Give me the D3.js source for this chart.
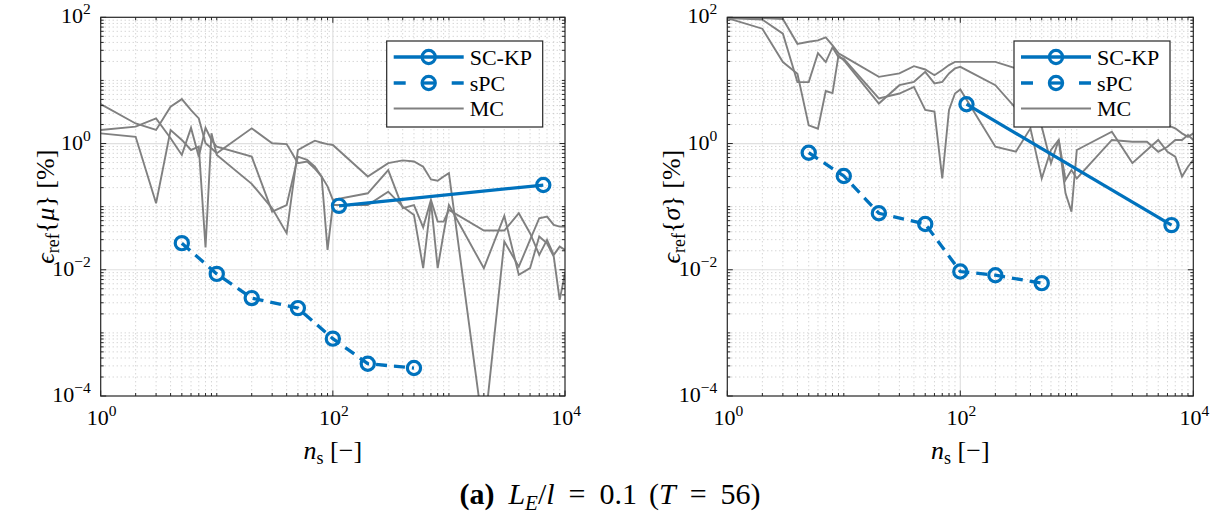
<!DOCTYPE html>
<html>
<head>
<meta charset="utf-8">
<script src="https://cdn.jsdelivr.net/npm/d3@7"></script>
<style>
  body { margin: 0; background: #fff; }
  svg { display: block; }
  text { font-family: "Liberation Serif", "DejaVu Serif", serif; fill: #000; }
</style>
</head>
<body>
<svg id="chart" width="1217" height="519"></svg>
<script>
// Sample sizes at which the Monte Carlo error is evaluated
const ns = [1,2,3,4,5,6,7,8,9,10,20,30,40,50,60,70,80,90,100,200,300,400,500,600,700,800,900,1000,
            2000,3000,4000,5000,6000,7000,8000,9000,10000];

// Relative error of the mean [%], three MC repetitions
const muMC1 = [4.2,2.08,1.64,3.83,5.06,3.39,2.5,1.01,0.84,0.70,1.74,1.01,0.98,0.49,0.52,0.40,0.30,0.21,0.128,
               0.163,0.38,0.095,0.106,0.047,0.128,0.058,0.058,0.0887,0.0418,0.0418,0.0786,0.0379,0.0172,0.0297,0.0172,0.0233,0.0207];
const muMC2 = [1.64,1.85,2.5,1.21,0.66,1.77,0.62,1.77,1.14,0.89,0.62,0.0835,0.106,0.62,0.55,0.43,0.30,0.0207,0.106,
               0.106,0.173,0.100,0.0739,0.0106,0.120,0.0106,0.0379,0.106,0.0106,0.0713,0.0083,0.0106,0.0336,0.0263,0.0162,0.00334,0.00883];
const muMC3 = [1.45,1.28,0.113,1.64,1.14,0.79,0.89,0.0225,1.45,0.66,0.23,0.094,0.0379,0.79,0.95,1.11,1.03,0.98,0.95,
               0.30,0.49,0.54,0.52,0.43,0.27,0.258,0.30,0.34,0.000024,0.028,0.0112,0.0297,0.0655,0.0695,0.0513,0.0483,0.0483];

// Relative error of the standard deviation [%], three MC repetitions
const sgMC1 = [97,97,94,38,41,43,48,36,27,24,11.4,12.9,16.8,14.9,12.1,14.6,17.5,19.7,19.7,
               19.7,15.5,10.1,7.0,5.5,4.9,3.8,3.4,3.0,2.7,2.5,2.35,2.35,1.96,1.74,1.45,1.28,1.45];
const sgMC2 = [97,66,19.5,12.7,1.94,1.72,6.8,6.3,24.8,20.9,4.3,8.4,9.5,13.7,8.95,9.5,12.9,15.5,16.4,
               8.4,3.6,2.35,1.85,0.49,1.14,0.265,0.38,0.28,1.14,1.07,1.07,0.74,0.89,1.14,1.14,1.36,1.14];
const sgMC3 = [97,92,55,9.4,9.4,27,19.5,33.6,23.4,22,5.2,6.2,7.9,3.4,3.2,0.28,3.4,6.2,7.2,
               0.89,0.74,1.74,0.28,0.79,1.14,0.163,0.0835,0.79,1.54,0.49,0.79,1.14,0.74,0.62,0.30,0.43,0.55];

// Stochastic collocation (Kronrod-Patterson sparse grid)
const nsSCKP = [113, 6500];
const muSCKP = [0.103, 0.22];
const sgSCKP = [4.2, 0.051];

// Sparse polynomial chaos
const nsSPC = [5, 10, 20, 50, 100, 200, 500];
const muSPC = [0.0264, 0.0086, 0.00356, 0.00247, 0.00081, 0.000325, 0.000277];
const sgSPC = [0.715, 0.306, 0.0786, 0.0532, 0.00937, 0.0082, 0.00614];

// Axis ticks
const xMajor = [1, 100, 10000];
const yMajor = [1e-4, 1e-2, 1, 100];
const legendNames = ["SC-KP", "sPC", "MC"];

const BLUE = "#0072BD", GRAY = "#808080";
const svg = d3.select("#chart");
svg.append("rect").attr("width", 1217).attr("height", 519).attr("fill", "#fff");

const TOP = 17.3, BOTTOM = 396;

function minorTicks(e0, e1) {
  const t = [];
  for (let e = e0; e < e1; e++) for (let m = 1; m <= 9; m++) {
    if (m === 1 && e % 2 === 0) continue; // even decades carry the major ticks
    t.push(m * Math.pow(10, e));
  }
  return t;
}
const xMinor = minorTicks(0, 4);
const yMinor = minorTicks(-4, 2);

function expText(sel, e, size, supSize) {
  sel.attr("font-size", size);
  sel.append("tspan").text("10");
  sel.append("tspan").attr("dy", -9).attr("font-size", supSize).text(e < 0 ? "\u2212" + (-e) : String(e));
}

function drawPanel(p) {
  const x = d3.scaleLog().domain([1, 1e4]).range([p.left, p.right]);
  const y = d3.scaleLog().domain([1e-4, 1e2]).range([BOTTOM, TOP]);
  const g = svg.append("g");

  g.append("clipPath").attr("id", p.id).append("rect")
    .attr("x", p.left).attr("y", TOP).attr("width", p.right - p.left).attr("height", BOTTOM - TOP);

  // grid: minor dotted, major solid
  const grid = g.append("g");
  grid.selectAll(".gxm").data(xMinor).join("line")
    .attr("x1", d => x(d)).attr("x2", d => x(d)).attr("y1", TOP).attr("y2", BOTTOM)
    .attr("stroke", "#c4c4c4").attr("stroke-width", 1).attr("stroke-dasharray", "1,3");
  grid.selectAll(".gym").data(yMinor).join("line")
    .attr("y1", d => y(d)).attr("y2", d => y(d)).attr("x1", p.left).attr("x2", p.right)
    .attr("stroke", "#c4c4c4").attr("stroke-width", 1).attr("stroke-dasharray", "1,3");
  grid.selectAll(".gxM").data(xMajor.slice(1, -1)).join("line")
    .attr("x1", d => x(d)).attr("x2", d => x(d)).attr("y1", TOP).attr("y2", BOTTOM)
    .attr("stroke", "#e0e0e0").attr("stroke-width", 1.2);
  grid.selectAll(".gyM").data(yMajor.slice(1, -1)).join("line")
    .attr("y1", d => y(d)).attr("y2", d => y(d)).attr("x1", p.left).attr("x2", p.right)
    .attr("stroke", "#e0e0e0").attr("stroke-width", 1.2);

  const line = d3.line().x(d => x(d[0])).y(d => y(d[1]));
  const plot = g.append("g").attr("clip-path", `url(#${p.id})`);

  // Monte Carlo runs
  p.mc.forEach(vals => {
    plot.append("path").datum(ns.map((n, i) => [n, vals[i]]))
      .attr("d", line).attr("fill", "none").attr("stroke", GRAY).attr("stroke-width", 1.9);
  });

  // SC-KP
  const sc = nsSCKP.map((n, i) => [n, p.sckp[i]]);
  plot.append("path").datum(sc).attr("d", line).attr("fill", "none")
    .attr("stroke", BLUE).attr("stroke-width", 3.3);
  // sPC
  const sp = nsSPC.map((n, i) => [n, p.spc[i]]);
  plot.append("path").datum(sp).attr("d", line).attr("fill", "none")
    .attr("stroke", BLUE).attr("stroke-width", 3.3).attr("stroke-dasharray", "11,7");
  [sc, sp].forEach(pts => {
    plot.selectAll(null).data(pts).join("circle")
      .attr("cx", d => x(d[0])).attr("cy", d => y(d[1])).attr("r", 6.6)
      .attr("fill", "none").attr("stroke", BLUE).attr("stroke-width", 3.2);
  });

  // axes with inward ticks on all four sides
  const axes = g.append("g").attr("stroke", "#262626").attr("stroke-width", 1);
  const tick = (vals, len, side) => {
    vals.forEach(v => {
      if (side === "x") {
        axes.append("line").attr("x1", x(v)).attr("x2", x(v)).attr("y1", BOTTOM).attr("y2", BOTTOM - len);
        axes.append("line").attr("x1", x(v)).attr("x2", x(v)).attr("y1", TOP).attr("y2", TOP + len);
      } else {
        axes.append("line").attr("y1", y(v)).attr("y2", y(v)).attr("x1", p.left).attr("x2", p.left + len);
        axes.append("line").attr("y1", y(v)).attr("y2", y(v)).attr("x1", p.right).attr("x2", p.right - len);
      }
    });
  };
  tick(xMinor, 3, "x"); tick(xMajor, 5.5, "x");
  tick(yMinor, 3, "y"); tick(yMajor, 5.5, "y");
  axes.append("rect").attr("x", p.left).attr("y", TOP).attr("width", p.right - p.left).attr("height", BOTTOM - TOP)
    .attr("fill", "none").attr("stroke-width", 1.2);

  // tick labels
  xMajor.forEach(v => {
    const t = g.append("text").attr("x", x(v) + 1).attr("y", 425).attr("text-anchor", "middle");
    expText(t, Math.round(Math.log10(v)), 22, 15.5);
  });
  yMajor.forEach(v => {
    const t = g.append("text").attr("x", p.left - 10).attr("y", y(v) + 6).attr("text-anchor", "end");
    expText(t, Math.round(Math.log10(v)), 22, 15.5);
  });

  // x label
  const xl = g.append("text").attr("x", x(100)).attr("y", 459).attr("text-anchor", "middle").attr("font-size", 26);
  xl.append("tspan").attr("font-style", "italic").text("n");
  xl.append("tspan").attr("dy", 5).attr("font-size", 18).text("s");
  xl.append("tspan").attr("dy", -5).text("\u2005[\u2212]");

  // y label
  const yl = g.append("text").attr("transform", `translate(${p.left - 47},${(TOP + BOTTOM) / 2}) rotate(-90)`)
    .attr("text-anchor", "middle").attr("font-size", 26);
  yl.append("tspan").attr("font-style", "italic").text("\u03F5");
  yl.append("tspan").attr("dy", 5).attr("font-size", 18).text("ref");
  yl.append("tspan").attr("dy", -5).text("{");
  yl.append("tspan").attr("font-style", "italic").text(p.sym);
  yl.append("tspan").text("}\u2005[%]");

  // legend
  const L = p.legend;
  const lg = g.append("g");
  lg.append("rect").attr("x", L.x).attr("y", L.y).attr("width", 156).attr("height", 86)
    .attr("fill", "#fff").attr("stroke", "#262626").attr("stroke-width", 1.2);
  const rows = [16, 42, 67.5];
  const lx0 = L.x + 7, lx1 = L.x + 77, mx = L.x + 42;
  // SC-KP entry
  lg.append("line").attr("x1", lx0).attr("x2", lx1).attr("y1", L.y + rows[0]).attr("y2", L.y + rows[0])
    .attr("stroke", BLUE).attr("stroke-width", 3.3);
  lg.append("circle").attr("cx", mx).attr("cy", L.y + rows[0]).attr("r", 6.6)
    .attr("fill", "none").attr("stroke", BLUE).attr("stroke-width", 3.2);
  // sPC entry
  lg.append("line").attr("x1", lx0).attr("x2", lx1).attr("y1", L.y + rows[1]).attr("y2", L.y + rows[1])
    .attr("stroke", BLUE).attr("stroke-width", 3.3).attr("stroke-dasharray", "12,46");
  lg.append("line").attr("x1", mx - 7).attr("x2", mx + 7).attr("y1", L.y + rows[1]).attr("y2", L.y + rows[1])
    .attr("stroke", BLUE).attr("stroke-width", 3.3);
  lg.append("circle").attr("cx", mx).attr("cy", L.y + rows[1]).attr("r", 6.6)
    .attr("fill", "none").attr("stroke", BLUE).attr("stroke-width", 3.2);
  // MC entry
  lg.append("line").attr("x1", lx0).attr("x2", lx1).attr("y1", L.y + rows[2]).attr("y2", L.y + rows[2])
    .attr("stroke", GRAY).attr("stroke-width", 1.9);
  legendNames.forEach((name, i) => {
    lg.append("text").attr("x", L.x + 83).attr("y", L.y + rows[i] + 7.5).attr("font-size", 22).text(name);
  });
}

drawPanel({ id: "clipMu", left: 100.7, right: 565, mc: [muMC1, muMC2, muMC3], sckp: muSCKP, spc: muSPC,
            sym: "\u03BC", legend: { x: 386.7, y: 41 } });
drawPanel({ id: "clipSig", left: 727.3, right: 1193.3, mc: [sgMC1, sgMC2, sgMC3], sckp: sgSCKP, spc: sgSPC,
            sym: "\u03C3", legend: { x: 1014, y: 41 } });

// caption
const cap = svg.append("text").attr("x", 610).attr("y", 504).attr("text-anchor", "middle").attr("font-size", 30);
cap.append("tspan").attr("font-weight", "bold").text("(a)");
cap.append("tspan").attr("dx", 14).attr("font-style", "italic").text("L");
cap.append("tspan").attr("font-style", "italic").attr("dy", 6).attr("font-size", 21).text("E");
cap.append("tspan").attr("dy", -6).text("/");
cap.append("tspan").attr("font-style", "italic").text("l");
cap.append("tspan").attr("dx", 14).text("=");
cap.append("tspan").attr("dx", 14).text("0.1");
cap.append("tspan").attr("dx", 12).text("(");
cap.append("tspan").attr("font-style", "italic").text("T");
cap.append("tspan").attr("dx", 14).text("=");
cap.append("tspan").attr("dx", 14).text("56)");
</script>
</body>
</html>
